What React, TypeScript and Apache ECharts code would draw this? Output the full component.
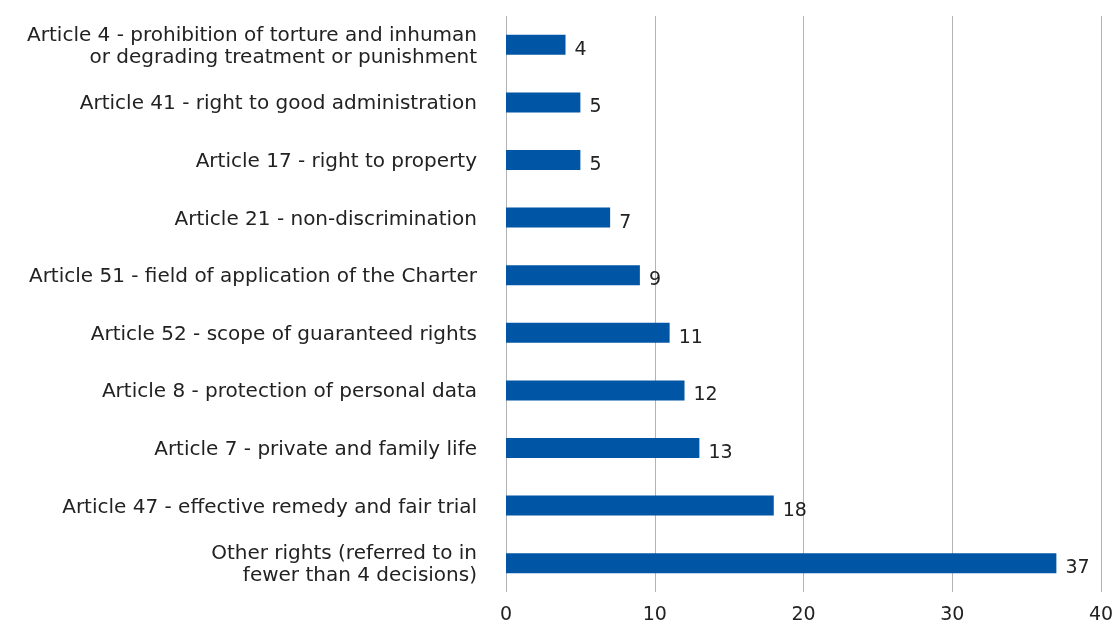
import React, { useEffect, useRef } from "react";
import * as echarts from "echarts";

const categories = [
  "Article 4 - prohibition of torture and inhuman\nor degrading treatment or punishment",
  "Article 41 - right to good administration",
  "Article 17 - right to property",
  "Article 21 - non-discrimination",
  "Article 51 - field of application of the Charter",
  "Article 52 - scope of guaranteed rights",
  "Article 8 - protection of personal data",
  "Article 7 - private and family life",
  "Article 47 - effective remedy and fair trial",
  "Other rights (referred to in\nfewer than 4 decisions)",
];
const values = [4, 5, 5, 7, 9, 11, 12, 13, 18, 37];
const xTicks = { min: 0, max: 40, interval: 10 };

export default function App() {
  const ref = useRef<HTMLDivElement>(null);
  useEffect(() => {
    if (!ref.current) return;
    const chart = echarts.init(ref.current, undefined, { renderer: "svg" });
    const font = "'DejaVu Sans', sans-serif";
    chart.setOption({
      animation: false,
      grid: { left: 506, right: 18, top: 16, bottom: 32, containLabel: false },
      xAxis: {
        type: "value",
        min: xTicks.min,
        max: xTicks.max,
        interval: xTicks.interval,
        axisLine: { show: false },
        axisTick: { show: false },
        splitLine: { show: true, lineStyle: { color: "#b3b3b3", width: 1 } },
        axisLabel: { color: "#222", fontSize: 19, fontFamily: font, margin: 11 },
      },
      yAxis: {
        type: "category",
        data: categories,
        inverse: true,
        axisLine: { show: false },
        axisTick: { show: false },
        axisLabel: {
          color: "#222",
          fontSize: 20,
          fontFamily: font,
          margin: 29,
          lineHeight: 22,
          align: "right",
          padding: [0, 0, 5, 0],
        },
      },
      series: [
        {
          type: "bar",
          data: values,
          barWidth: 20,
          itemStyle: { color: "#0055a4" },
          label: {
            show: true,
            position: "right",
            distance: 9,
            color: "#222",
            fontSize: 19,
            fontFamily: font,
            offset: [0, 3],
          },
        },
      ],
    });
    return () => chart.dispose();
  }, []);
  return (
    <div
      ref={ref}
      style={{ position: "fixed", left: 0, top: 0, width: 1119, height: 624 }}
    />
  );
}
